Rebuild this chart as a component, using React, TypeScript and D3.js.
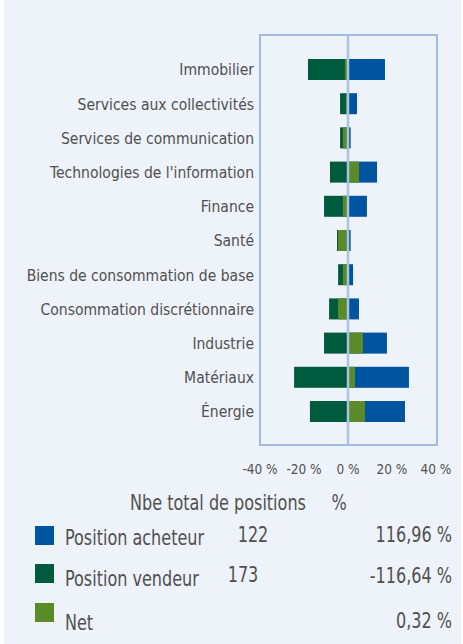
import React from "react";
import * as d3 from "d3";

const categories = [
  "Immobilier",
  "Services aux collectivités",
  "Services de communication",
  "Technologies de l'information",
  "Finance",
  "Santé",
  "Biens de consommation de base",
  "Consommation discrétionnaire",
  "Industrie",
  "Matériaux",
  "Énergie",
];
const shortValues = [-18.2, -3.6, -3.6, -8.2, -10.9, -5.0, -4.5, -8.6, -10.9, -24.5, -17.3];
const longValues = [16.8, 4.1, 1.2, 13.2, 8.6, 1.2, 2.3, 5.0, 17.7, 27.7, 25.9];
const netValues = [-1.4, -0.9, -2.3, 5.0, -2.3, -4.5, -2.3, -4.5, 6.8, 3.2, 7.7];
const tickValues = [-40, -20, 0, 20, 40];

const legendLabels = ["Position acheteur", "Position vendeur", "Net"];
const legendCounts = ["122", "173", ""];
const legendPercents = ["116,96 %", "-116,64 %", "0,32 %"];

const COL_LONG = "#0054a0";
const COL_SHORT = "#005b3e";
const COL_NET = "#5b8a29";
const BORDER = "#9fbce0";
const BG = "#eef2f9";
const TEXT = "#505050";
const FONT = "'DejaVu Sans Condensed', 'Liberation Sans Narrow', sans-serif";

function T({ x, y, sx, size, anchor, children }: any) {
  return (
    <text
      transform={`translate(${x},${y}) scale(${sx},1)`}
      fontSize={size}
      textAnchor={anchor || "start"}
      fill={TEXT}
    >
      {children}
    </text>
  );
}

export default function App() {
  const W = 463;
  const H = 644;
  const x = d3.scaleLinear().domain([-40, 40]).range([260, 436]);
  const y = d3.scaleBand<string>().domain(categories).range([52.4, 428.6]).paddingInner(0.386).paddingOuter(0.193);
  const bh = y.bandwidth();
  const x0 = x(0);
  const LS = 20.5;
  const LX = 0.87;

  return (
    <svg width={W} height={H} style={{ position: "absolute", left: 0, top: 0 }} fontFamily={FONT}>
      <rect x={0} y={0} width={W} height={H} fill="#ffffff" />
      <rect x={4} y={0} width={457} height={H} fill={BG} />
      {categories.map((c, i) => {
        const yy = y(c)!;
        return (
          <g key={c}>
            <rect x={x(shortValues[i])} y={yy} width={x0 - x(shortValues[i])} height={bh} fill={COL_SHORT} />
            <rect x={x0} y={yy} width={x(longValues[i]) - x0} height={bh} fill={COL_LONG} />
            <rect
              x={Math.min(x0, x(netValues[i]))}
              y={yy}
              width={Math.abs(x(netValues[i]) - x0)}
              height={bh}
              fill={COL_NET}
            />
            <T x={254} y={yy + bh / 2 + 5.8} sx={0.97} size={16} anchor="end">
              {c}
            </T>
          </g>
        );
      })}
      <line x1={x0} x2={x0} y1={35} y2={445} stroke="#a8c3e4" strokeWidth={2.5} />
      <rect x={260} y={35} width={177} height={410} fill="none" stroke={BORDER} strokeWidth={2} />
      {tickValues.map((t) => (
        <text key={t} x={x(t)} y={469} dy="0.35em" textAnchor="middle" fontSize={13.5} fill={TEXT}>
          {`${t} %`}
        </text>
      ))}
      <T x={130} y={510} sx={LX} size={LS}>Nbe total de positions</T>
      <T x={339} y={510} sx={LX} size={LS} anchor="middle">%</T>
      {legendLabels.map((l, i) => {
        const colors = [COL_LONG, COL_SHORT, COL_NET];
        const sqY = [526, 564, 603][i];
        const baseY = [545, 586, 630][i];
        const numY = [542, 582, 0][i];
        const numX = [253, 243, 0][i];
        const pctY = [542, 583, 628][i];
        return (
          <g key={l}>
            <rect x={35} y={sqY} width={19} height={19} fill={colors[i]} />
            <T x={65} y={baseY} sx={LX} size={LS}>{l}</T>
            {legendCounts[i] && (
              <T x={numX} y={numY} sx={LX} size={LS} anchor="middle">{legendCounts[i]}</T>
            )}
            <T x={452} y={pctY} sx={LX} size={LS} anchor="end">{legendPercents[i]}</T>
          </g>
        );
      })}
    </svg>
  );
}
